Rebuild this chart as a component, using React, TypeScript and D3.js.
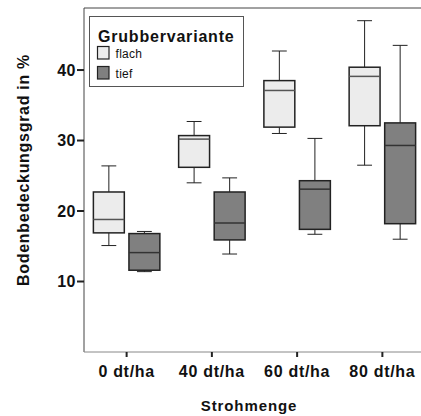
import * as d3 from "d3";

const categories = ["0 dt/ha", "40 dt/ha", "60 dt/ha", "80 dt/ha"];
const groups = ["flach", "tief"];
const groupColors: Record<string, string> = { flach: "#ececec", tief: "#808080" };
const yTicks = [10, 20, 30, 40];

// [whiskerLow, q1, median, q3, whiskerHigh]
const flachStats = [
  [15.1, 16.9, 18.8, 22.7, 26.4],
  [24.0, 26.2, 30.2, 30.7, 32.7],
  [31.0, 31.9, 37.1, 38.5, 42.7],
  [26.5, 32.1, 39.1, 40.4, 47.0],
];
const tiefStats = [
  [11.4, 11.6, 14.1, 16.8, 17.1],
  [13.9, 15.9, 18.3, 22.7, 24.7],
  [16.7, 17.4, 23.1, 24.3, 30.3],
  [16.0, 18.2, 29.3, 32.5, 43.5],
];

const width = 421;
const height = 416;
const margin = { top: 8, right: -4, bottom: 64, left: 84 };
const font = "'Liberation Sans', Arial, sans-serif";

export default function App() {
  const plotBottom = height - margin.bottom;
  const plotRight = width - margin.right;

  const x = d3.scaleBand().domain(categories).range([margin.left, plotRight]);
  const xGroup = d3
    .scaleBand()
    .domain(groups)
    .range([0, x.bandwidth()])
    .paddingInner(0.13)
    .paddingOuter(0.264);
  const y = d3.scaleLinear().domain([0, 48.8]).range([plotBottom, margin.top]);

  const boxes = categories.flatMap((cat, i) =>
    groups.map((g) => ({
      cat,
      g,
      s: g === "flach" ? flachStats[i] : tiefStats[i],
    }))
  );

  const bw = xGroup.bandwidth();

  return (
    <svg
      width={width}
      height={height}
      style={{ position: "absolute", left: 0, top: 0, background: "#fff" }}
      fontFamily={font}
    >
      {/* frame */}
      <line x1={margin.left} x2={plotRight} y1={margin.top} y2={margin.top} stroke="#444" />
      <line x1={margin.left} x2={margin.left} y1={margin.top} y2={plotBottom} stroke="#444" />
      <line x1={margin.left} x2={plotRight} y1={plotBottom} y2={plotBottom} stroke="#888" />

      {yTicks.map((t) => (
        <g key={t} transform={`translate(0,${y(t)})`}>
          <line x1={margin.left - 7} x2={margin.left} stroke="#222" strokeWidth={2} />
          <text
            x={margin.left - 8}
            dy="0.36em"
            textAnchor="end"
            fontSize={16}
            fontWeight="bold"
            letterSpacing={0.5}
            fill="#111"
          >
            {t}
          </text>
        </g>
      ))}

      {categories.map((c) => {
        const cx = (x(c) ?? 0) + x.bandwidth() / 2;
        return (
          <g key={c}>
            <line x1={cx} x2={cx} y1={plotBottom} y2={plotBottom + 5} stroke="#222" strokeWidth={2} />
            <text
              x={cx}
              y={376.5}
              textAnchor="middle"
              fontSize={16}
              fontWeight="bold"
              letterSpacing={0.7}
              fill="#111"
            >
              {c}
            </text>
          </g>
        );
      })}

      {boxes.map(({ cat, g, s }) => {
        const x0 = (x(cat) ?? 0) + (xGroup(g) ?? 0);
        const cx = x0 + bw / 2;
        const cap = bw * 0.24;
        return (
          <g key={cat + g} stroke="#222" strokeWidth={1}>
            <line x1={cx} x2={cx} y1={y(s[4])} y2={y(s[3])} />
            <line x1={cx} x2={cx} y1={y(s[1])} y2={y(s[0])} />
            <line x1={cx - cap} x2={cx + cap} y1={y(s[4])} y2={y(s[4])} />
            <line x1={cx - cap} x2={cx + cap} y1={y(s[0])} y2={y(s[0])} />
            <rect
              x={x0}
              y={y(s[3])}
              width={bw}
              height={y(s[1]) - y(s[3])}
              fill={groupColors[g]}
              strokeWidth={1.5}
            />
            <line
              x1={x0}
              x2={x0 + bw}
              y1={y(s[2])}
              y2={y(s[2])}
              strokeWidth={1.5}
              stroke={g === "tief" ? "#333" : "#555"}
            />
          </g>
        );
      })}

      {/* legend */}
      <g>
        <rect x={89.5} y={16.5} width={154} height={70} fill="#fff" stroke="#555" />
        <text x={98} y={42} fontSize={16} fontWeight="bold" letterSpacing={0.8} fill="#111">
          Grubbervariante
        </text>
        {groups.map((g, i) => (
          <g key={g} transform={`translate(97.5,${46.5 + i * 20})`}>
            <rect width={11.5} height={12.5} fill={groupColors[g]} stroke="#222" strokeWidth={1.2} />
            <text x={18} y={11.5} fontSize={12} letterSpacing={0.3} fill="#111">
              {g}
            </text>
          </g>
        ))}
      </g>

      <text
        transform={`translate(28.5,${170}) rotate(-90)`}
        textAnchor="middle"
        fontSize={16}
        fontWeight="bold"
        letterSpacing={0.7}
        fill="#111"
      >
        Bodenbedeckungsgrad in %
      </text>
      <text x={249} y={411} textAnchor="middle" fontSize={15} fontWeight="bold" letterSpacing={0.9} fill="#111">
        Strohmenge
      </text>
    </svg>
  );
}
